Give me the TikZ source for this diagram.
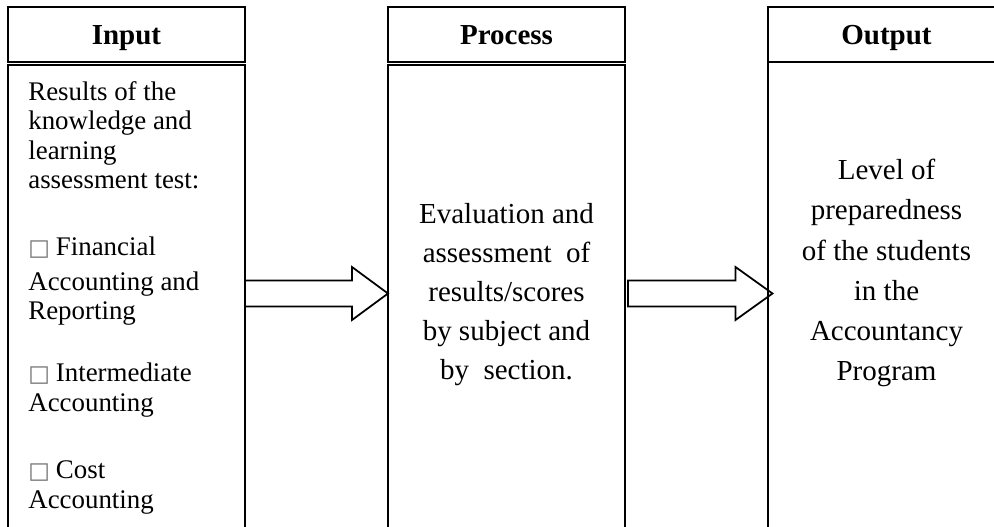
\documentclass[tikz,border=0pt]{standalone}
\usepackage{fontspec}
\setmainfont{Liberation Serif}
\newfontfamily\boxfont{DejaVu Sans}
\usetikzlibrary{positioning, calc}
\newcommand{\sqmark}{{\boxfont\fontsize{13pt}{12pt}\selectfont\textcolor{black!55}{□}}\hspace{0.12cm}}
\tikzset{
    head box/.style={rectangle, draw=black, line width=1pt, outer sep=0pt, minimum width=4.74cm, minimum height=1.1cm, text height=0.42cm, text depth=0.02cm, font=\fontsize{16.5}{18}\selectfont\bfseries},
    body box/.style={rectangle, draw=black, line width=1pt, outer sep=0pt, minimum width=4.74cm, minimum height=9.9cm},
    list text/.style={inner sep=0pt, align=left, font=\fontsize{15.3}{16.8}\selectfont},
    mid text/.style={inner sep=0pt, align=center, font=\fontsize{16.5}{22.3}\selectfont},
    block arrow/.style={draw=black, line width=1pt, line join=miter},
}

\begin{document}
\begin{tikzpicture}[node distance=0.06cm and 2.86cm]
\useasboundingbox (0,0) rectangle (19.88,-10.54);
\clip (0,0) rectangle (19.88,-10.54);
% column heads
\node[head box, anchor=north west] (inhead) at (0.16,-0.14) {Input};
\node[head box, right=of inhead] (prochead) {Process};
\node[head box, right=of prochead] (outhead) {Output};
% column bodies
\node[body box, below=of inhead] (inbody) {};
\node[body box, below=of prochead] (procbody) {};
\node[body box, below=0cm of outhead] (outbody) {};
\node[list text, anchor=north west] (inlist) at ([shift={(0.4,-0.32)}]inbody.north west) {Results of the\\ knowledge and\\ learning\\ assessment test:\\[0.75cm] \sqmark Financial\\[0.1cm] Accounting and\\ Reporting\\[0.65cm] \sqmark Intermediate\\ Accounting\\[0.76cm] \sqmark Cost\\ Accounting};
\node[mid text] (proctext) at ([yshift=-4.59cm]procbody.north) {Evaluation and\\ assessment~ of\\ results/scores\\ by subject and\\ by~ section.};
\node[mid text, font=\fontsize{16.5}{22.8}\selectfont] (outtext) at ([yshift=-4.22cm]outbody.north) {Level of\\ preparedness\\ of the students\\ in the\\ Accountancy\\ Program};
% block arrows
\coordinate (a1) at ([yshift=-4.57cm]inbody.north east);
\coordinate (b1) at (a1 -| procbody.west);
\coordinate (a2) at ([xshift=0.06cm]a1 -| procbody.east);
\coordinate (b2) at ([xshift=0.09cm]a1 -| outbody.west);
\draw[block arrow] ($(a1)+(0,0.26)$) -- ($(b1)+(-0.72,0.26)$) -- ($(b1)+(-0.72,0.53)$) -- (b1) -- ($(b1)+(-0.72,-0.53)$) -- ($(b1)+(-0.72,-0.26)$) -- ($(a1)+(0,-0.26)$) -- cycle;
\draw[block arrow] ($(a2)+(0,0.26)$) -- ($(b2)+(-0.74,0.26)$) -- ($(b2)+(-0.74,0.53)$) -- (b2) -- ($(b2)+(-0.74,-0.53)$) -- ($(b2)+(-0.74,-0.26)$) -- ($(a2)+(0,-0.26)$) -- cycle;
\end{tikzpicture}
\end{document}
